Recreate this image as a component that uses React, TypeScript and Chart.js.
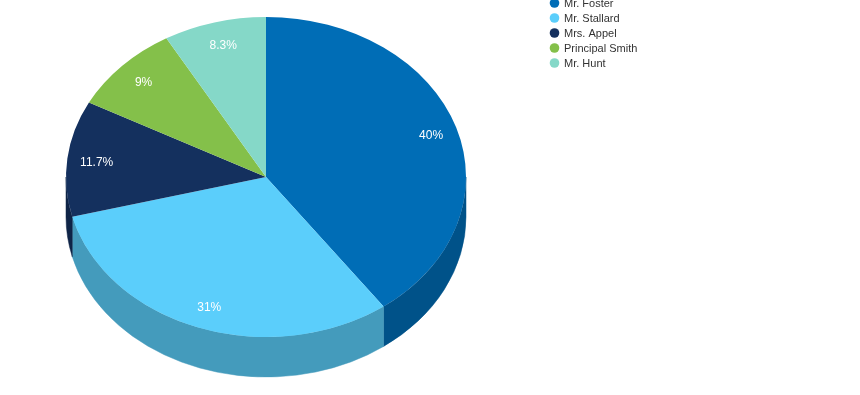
import React, { useEffect, useRef } from "react";
import { Chart, registerables } from "chart.js";

Chart.register(...registerables);

const labels = ["Mr. Foster", "Mr. Stallard", "Mrs. Appel", "Principal Smith", "Mr. Hunt"];
const values = [40, 31, 11.7, 9, 8.3];
const valueLabels = ["40%", "31%", "11.7%", "9%", "8.3%"];
const colors = ["#006DB6", "#5BCEFB", "#14305E", "#84C04A", "#85D8C8"];

const SCALE_Y = 0.8;
const SHIFT_Y = 17;
const DEPTH = 40;

function darken(hex: string, f: number) {
  const n = parseInt(hex.slice(1), 16);
  const r = Math.round(((n >> 16) & 255) * f);
  const g = Math.round(((n >> 8) & 255) * f);
  const b = Math.round((n & 255) * f);
  return `rgb(${r},${g},${b})`;
}

const pie3d = {
  id: "pie3d",
  beforeDatasetsDraw(chart: any) {
    const ctx = chart.ctx;
    const meta = chart.getDatasetMeta(0);
    ctx.save();
    meta.data.forEach((arc: any, i: number) => {
      const p = arc.getProps(["x", "y", "startAngle", "endAngle", "outerRadius"], true);
      const a = Math.max(p.startAngle, 0);
      const b = Math.min(p.endAngle, Math.PI);
      if (b <= a) return;
      const cx = p.x;
      const cy = SHIFT_Y + SCALE_Y * p.y;
      const rx = p.outerRadius;
      const ry = p.outerRadius * SCALE_Y;
      ctx.beginPath();
      ctx.ellipse(cx, cy, rx, ry, 0, a, b, false);
      ctx.ellipse(cx, cy + DEPTH, rx, ry, 0, b, a, true);
      ctx.closePath();
      ctx.fillStyle = darken(colors[i], 0.75);
      ctx.fill();
      ctx.strokeStyle = darken(colors[i], 0.75);
      ctx.lineWidth = 0.5;
      ctx.stroke();
    });
    ctx.restore();
    ctx.save();
    ctx.translate(0, SHIFT_Y);
    ctx.scale(1, SCALE_Y);
  },
  afterDatasetsDraw(chart: any) {
    const ctx = chart.ctx;
    ctx.restore();
    const meta = chart.getDatasetMeta(0);
    ctx.save();
    ctx.fillStyle = "#ffffff";
    ctx.font = "12px 'Liberation Sans', Arial, sans-serif";
    ctx.textAlign = "center";
    ctx.textBaseline = "middle";
    meta.data.forEach((arc: any, i: number) => {
      const p = arc.getProps(["x", "y", "startAngle", "endAngle", "outerRadius"], true);
      const mid = (p.startAngle + p.endAngle) / 2;
      const k = 0.86;
      const x = p.x + Math.cos(mid) * p.outerRadius * k + 1.5;
      const y = SHIFT_Y + SCALE_Y * (p.y + Math.sin(mid) * p.outerRadius * k) + 1.5;
      ctx.fillText(valueLabels[i], x, y);
    });
    ctx.restore();
  },
  afterDraw(chart: any) {
    const ctx = chart.ctx;
    ctx.save();
    ctx.font = "11px 'Liberation Sans', Arial, sans-serif";
    ctx.textBaseline = "middle";
    ctx.textAlign = "left";
    labels.forEach((l, i) => {
      const y = 3 + i * 15;
      ctx.beginPath();
      ctx.arc(554.5, y, 4.8, 0, Math.PI * 2);
      ctx.fillStyle = colors[i];
      ctx.fill();
      ctx.fillStyle = "#333333";
      ctx.fillText(l, 564, y + 0.5);
    });
    ctx.restore();
  },
};

export default function App() {
  const ref = useRef<HTMLCanvasElement>(null);
  useEffect(() => {
    if (!ref.current) return;
    const chart = new Chart(ref.current, {
      type: "pie",
      data: {
        labels,
        datasets: [
          {
            data: values,
            backgroundColor: colors,
            borderWidth: 0,
          },
        ],
      },
      options: {
        responsive: false,
        animation: false,
        layout: { padding: { left: 66, right: 394, top: 0, bottom: 20 } },
        plugins: {
          legend: { display: false },
          tooltip: { enabled: false },
        },
      },
      plugins: [pie3d],
    });
    return () => chart.destroy();
  }, []);
  return (
    <div style={{ position: "fixed", left: 0, top: 0, width: 860, height: 395, overflow: "hidden", background: "#fff" }}>
      <canvas ref={ref} width={860} height={420} style={{ width: 860, height: 420, display: "block" }} />
    </div>
  );
}
